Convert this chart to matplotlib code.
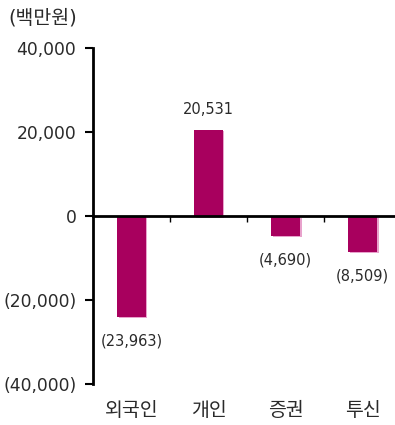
import matplotlib
matplotlib.use("Agg")
import matplotlib.pyplot as plt
import matplotlib.patheffects as pe
from matplotlib.ticker import FuncFormatter

plt.rcParams['font.family'] = ['DejaVu Sans', 'Noto Sans CJK KR']

categories = ['외국인', '개인', '증권', '투신']
values = [-23963, 20531, -4690, -8509]
yticks = [-40000, -20000, 0, 20000, 40000]
unit_label = '(백만원)'

bar_color = '#A8005E'
shadow_color = '#E8A2CC'
text_color = '#2a2a2a'

fig = plt.figure(figsize=(3.95, 4.25), dpi=100)
ax = fig.add_axes([93/395, 1-384/425, 1-93/395, (384-48)/425])

x = list(range(len(categories)))
bars = ax.bar(x, values, width=0.37, color=bar_color, zorder=2)
for b in bars:
    b.set_path_effects([pe.SimplePatchShadow(offset=(1.2, -1.2), shadow_rgbFace=shadow_color, alpha=1.0), pe.Normal()])

ax.set_xlim(-0.5, 3.42)
ax.set_ylim(-40000, 40000)

def fmt(v, pos=None):
    if v < 0:
        return '({:,.0f})'.format(-v)
    return '{:,.0f}'.format(v)

ax.set_yticks(yticks)
ax.yaxis.set_major_formatter(FuncFormatter(fmt))
ax.tick_params(axis='y', length=6, width=1.5, pad=6, labelsize=12.3, colors='black')
ax.tick_params(axis='y', labelcolor=text_color)

ax.spines['top'].set_visible(False)
ax.spines['right'].set_visible(False)
ax.spines['left'].set_linewidth(2)
ax.spines['bottom'].set_position(('data', 0))
ax.spines['bottom'].set_linewidth(2)
ax.spines['bottom'].set_zorder(3)
ax.set_xticks([0.5, 1.5, 2.5])
ax.set_xticklabels([])
ax.tick_params(axis='x', length=4, width=1, direction='out')

for i, c in enumerate(categories):
    ax.annotate(c, (i, -40000), xytext=(0, -12), textcoords='offset points',
                ha='center', va='top', fontsize=14, color=text_color)

for i, v in enumerate(values):
    if v >= 0:
        ax.annotate(fmt(v), (i, v), xytext=(0, 9), textcoords='offset points',
                    ha='center', va='bottom', fontsize=10.5, color=text_color)
    else:
        ax.annotate(fmt(v), (i, v), xytext=(0, -12), textcoords='offset points',
                    ha='center', va='top', fontsize=10.5, color=text_color)

fig.text(8/395, 1-18/425, unit_label, ha='left', va='center', fontsize=14, color=text_color)

fig.savefig('out.png', dpi=100)
